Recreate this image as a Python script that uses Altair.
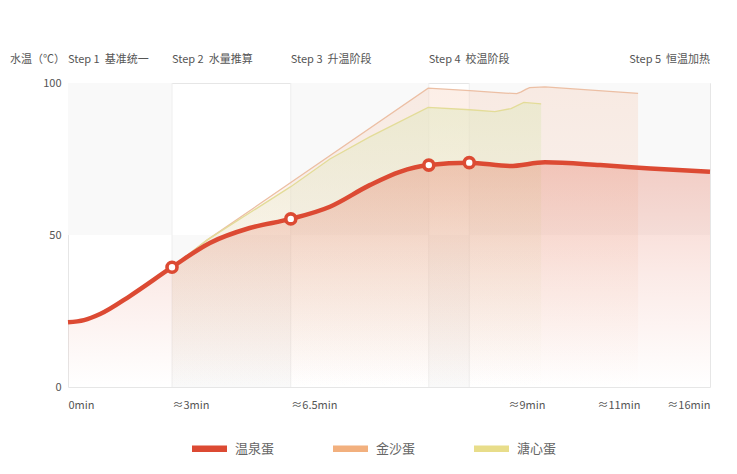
import altair as alt
import pandas as pd

FONT = "Noto Sans CJK SC"
NB = "\u00a0"

# ---- data (x = progress position 0..100 along the non-linear time axis) ----
series_names = ["温泉蛋", "金沙蛋", "溏心蛋"]
series_colors = ["#dc4a33", "#f2b07e", "#e8dd8a"]

red_pos = [0, 2.5, 5.0, 9.7, 16.2, 22.1, 28.3, 34.7, 40.8, 47.0, 51.7, 56.2, 62.5, 68.8, 74.3, 82.9, 90.7, 100]
red_temp = [21.3, 22.0, 24.0, 30.0, 39.4, 47.4, 52.3, 55.3, 59.3, 66.4, 70.8, 73.0, 73.8, 72.7, 73.9, 73.0, 71.9, 70.8]

orange_pos = [16.2, 19.0, 21.7, 56.1, 62.6, 68.1, 69.9, 70.6, 71.3, 71.9, 74.3, 88.8]
orange_temp = [39.4, 44.0, 48.4, 98.3, 97.5, 96.7, 96.5, 97.1, 97.9, 98.5, 98.7, 96.6]

yellow_pos = [16.2, 19.0, 21.7, 34.7, 40.8, 47.0, 56.1, 62.6, 66.5, 69.0, 71.0, 73.7]
yellow_temp = [39.4, 44.0, 48.4, 65.9, 75.0, 82.3, 92.0, 91.2, 90.6, 91.6, 93.6, 93.1]

marker_pos = [16.2, 34.7, 56.2, 62.5]
marker_temp = [39.4, 55.3, 73.0, 73.8]

step_pos = [0, 16.2, 34.7, 56.2]
step_labels = ["Step 1" + NB + NB + "基准统一", "Step 2" + NB + NB + "水量推算",
               "Step 3" + NB + NB + "升温阶段", "Step 4" + NB + NB + "校温阶段"]
last_step_pos = [100]
last_step_label = ["Step 5" + NB + NB + "恒温加热"]

tick_pos = [0, 16.2, 34.7, 74.3, 89.1, 100]
tick_labels = ["0min", "≈3min", "≈6.5min", "≈9min", "≈11min", "≈16min"]

band_x0 = [0, 16.2, 34.7, 56.2, 62.5]
band_x1 = [16.2, 34.7, 56.2, 62.5, 100]
band_y0 = [50, 0, 50, 0, 50]
band_y1 = [100, 50, 100, 50, 100]

rule_pos = [16.2, 34.7, 56.2, 62.5]

# ---- frames ----
red_df = pd.DataFrame({"pos": red_pos, "temp": red_temp})
orange_df = pd.DataFrame({"pos": orange_pos, "temp": orange_temp})
yellow_df = pd.DataFrame({"pos": yellow_pos, "temp": yellow_temp})
marker_df = pd.DataFrame({"pos": marker_pos, "temp": marker_temp})
step_df = pd.DataFrame({"pos": step_pos, "label": step_labels})
last_step_df = pd.DataFrame({"pos": last_step_pos, "label": last_step_label})
band_df = pd.DataFrame({"x0": band_x0, "x1": band_x1, "y0": band_y0, "y1": band_y1})
rule_df = pd.DataFrame({"pos": rule_pos})
legend_df = pd.DataFrame({"series": series_names})

label_expr = "[{}][indexof([{}], datum.value)]".format(
    ",".join("'%s'" % t for t in tick_labels), ",".join(str(p) for p in tick_pos)
)

xscale = alt.Scale(domain=[0, 100], nice=False, zero=False)
yscale = alt.Scale(domain=[0, 100], nice=False)
xaxis = alt.Axis(
    values=tick_pos, labelExpr=label_expr, title=None, domain=False, ticks=False, grid=False,
    labelAlign={"condition": {"test": "datum.value > 70", "value": "right"}, "value": "left"},
    labelPadding=12, labelFontSize=11, labelColor="#555", labelFont=FONT,
    labelOverlap=False, labelFlush=False,
)
yaxis = alt.Axis(
    values=[0, 50, 100], title=None, domain=False, ticks=False, grid=False,
    labelPadding=7, labelFontSize=11, labelColor="#555", labelFont=FONT,
)


def X(field):
    return alt.X(field, type="quantitative", scale=xscale, axis=xaxis)


def Y(field):
    return alt.Y(field, type="quantitative", scale=yscale, axis=yaxis)


def grad(rgb, a_top, a_mid):
    return {
        "gradient": "linear", "x1": 0, "y1": 0, "x2": 0, "y2": 1,
        "stops": [
            {"offset": 0, "color": "rgba(%d,%d,%d,%.2f)" % (rgb + (a_top,))},
            {"offset": 0.5, "color": "rgba(%d,%d,%d,%.2f)" % (rgb + (a_mid,))},
            {"offset": 1, "color": "rgba(%d,%d,%d,0)" % rgb},
        ],
    }


bands = alt.Chart(band_df).mark_rect(color="#f9f9f9").encode(
    x=X("x0"), x2="x1", y=Y("y0"), y2="y1"
)
rules = alt.Chart(rule_df).mark_rule(color="#eeeeee", strokeWidth=1).encode(x=X("pos"))

orange_area = alt.Chart(orange_df).mark_area(
    interpolate="linear", fill=grad((245, 195, 168), 0.28, 0.16)
).encode(x=X("pos"), y=Y("temp"))
yellow_area = alt.Chart(yellow_df).mark_area(
    interpolate="linear", fill=grad((228, 232, 195), 0.6, 0.2)
).encode(x=X("pos"), y=Y("temp"))
red_area = alt.Chart(red_df).mark_area(
    interpolate="monotone", fill=grad((228, 110, 85), 0.32, 0.14)
).encode(x=X("pos"), y=Y("temp"))

orange_line = alt.Chart(orange_df).mark_line(
    interpolate="linear", color="#ecbfa4", strokeWidth=1.3
).encode(x=X("pos"), y=Y("temp"))
yellow_line = alt.Chart(yellow_df).mark_line(
    interpolate="linear", color="#e3dc98", strokeWidth=1.3
).encode(x=X("pos"), y=Y("temp"))
red_line = alt.Chart(red_df).mark_line(
    interpolate="monotone", color="#dc4a33", strokeWidth=4.5
).encode(x=X("pos"), y=Y("temp"))

markers = alt.Chart(marker_df).mark_point(
    shape="circle", filled=True, fill="white", stroke="#dc4a33", strokeWidth=3.6, size=100, opacity=1
).encode(x=X("pos"), y=Y("temp"))

steps = alt.Chart(step_df).mark_text(
    align="left", baseline="middle", font=FONT, fontSize=11, color="#555"
).encode(x=X("pos"), y=alt.value(-23), text="label:N")
last_step = alt.Chart(last_step_df).mark_text(
    align="right", baseline="middle", font=FONT, fontSize=11, color="#555"
).encode(x=X("pos"), y=alt.value(-23), text="label:N")
ytitle = alt.Chart(pd.DataFrame({"t": ["水温（℃）"]})).mark_text(
    align="left", baseline="middle", font=FONT, fontSize=11, color="#555"
).encode(x=alt.value(-58), y=alt.value(-23), text="t:N")

legend_layer = alt.Chart(legend_df).mark_point(filled=True, opacity=0, size=1).encode(
    x=alt.value(0), y=alt.value(0),
    color=alt.Color(
        "series:N",
        scale=alt.Scale(domain=series_names, range=series_colors),
        sort=series_names,
        legend=alt.Legend(
            title=None, orient="none", legendX=124, legendY=348, direction="horizontal",
            symbolType="M-1,-0.18H1V0.18H-1Z", symbolSize=1225, symbolOpacity=1,
            symbolStrokeWidth=0, labelFont=FONT, labelFontSize=13, labelColor="#666",
            labelOffset=8, columnPadding=58,
        ),
    ),
)

chart = alt.layer(
    bands, rules, orange_area, yellow_area, red_area,
    orange_line, yellow_line, red_line, markers,
    steps, last_step, ytitle, legend_layer,
).properties(
    width=642, height=304,
    padding={"left": 60, "top": 75, "right": 10, "bottom": 78},
    autosize=alt.AutoSizeParams(type="none"),
    background="white",
).configure_view(stroke="#e6e6e6", strokeWidth=1)

chart.save("out.html", embed_options={"renderer": "svg", "actions": False})
